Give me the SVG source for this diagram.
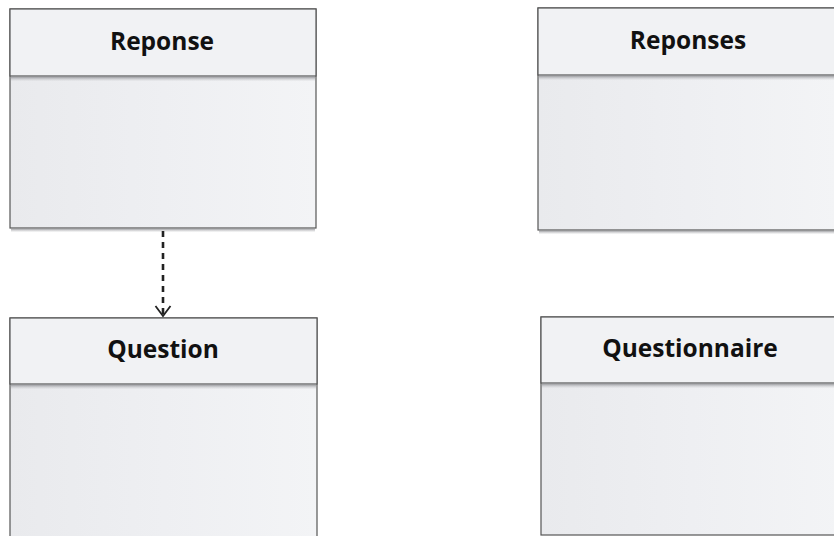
<svg xmlns="http://www.w3.org/2000/svg" width="834" height="536" viewBox="0 0 834 536">
<defs>
<linearGradient id="g" x1="0" y1="0" x2="1" y2="0">
<stop offset="0" stop-color="#e9eaed"/>
<stop offset="0.5" stop-color="#eeeff2"/>
<stop offset="1" stop-color="#f3f4f6"/>
</linearGradient>
<linearGradient id="sh" x1="0" y1="0" x2="0" y2="1">
<stop offset="0" stop-color="#8a8b8f" stop-opacity="0.9"/>
<stop offset="1" stop-color="#cfd0d3" stop-opacity="0"/>
</linearGradient>
<marker id="open" markerWidth="14" markerHeight="18" refX="11" refY="9" orient="auto" markerUnits="userSpaceOnUse">
<path d="M1,1.5 L11,9 L1,16.5" fill="none" stroke="#222" stroke-width="1.8"/>
</marker>
</defs>
<style>
.box{fill:url(#g);stroke:#555;stroke-width:1.2}
.hdr{fill:#f1f2f4;stroke:#555;stroke-width:1.2}
.shadow{fill:url(#sh)}
.lbl{font-family:"Open Sans","Liberation Sans",sans-serif;font-weight:bold;font-size:24.5px;fill:#111;text-anchor:middle}
.conn{stroke:#222;stroke-width:2.6;fill:none;stroke-dasharray:6,5}
</style>
<rect width="834" height="536" fill="#ffffff"/>
<g id="reponse">
<rect class="box" x="10" y="9" width="306" height="219"/>
<rect class="hdr" x="10" y="9" width="306" height="67"/>
<rect class="shadow" x="11" y="76.6" width="304" height="5"/>
<rect class="shadow" x="11" y="228.6" width="304" height="4"/>
<text class="lbl" x="162" y="50">Reponse</text>
</g>
<g id="reponses">
<rect class="box" x="538" y="8" width="300" height="222"/>
<rect class="hdr" x="538" y="8" width="300" height="67"/>
<rect class="shadow" x="539" y="75.6" width="298" height="5"/>
<rect class="shadow" x="539" y="230.6" width="298" height="4"/>
<text class="lbl" x="688" y="49">Reponses</text>
</g>
<g id="question">
<rect class="box" x="10" y="318" width="307" height="225"/>
<rect class="hdr" x="10" y="318" width="307" height="66"/>
<rect class="shadow" x="11" y="384.6" width="305" height="5"/>
<text class="lbl" x="163" y="358">Question</text>
</g>
<g id="questionnaire">
<rect class="box" x="541" y="317" width="300" height="218"/>
<rect class="hdr" x="541" y="317" width="300" height="66"/>
<rect class="shadow" x="542" y="383.6" width="298" height="5"/>
<text class="lbl" x="690" y="357">Questionnaire</text>
</g>
<g id="connectors">
<line class="conn" x1="163" y1="231" x2="163" y2="316" marker-end="url(#open)"/>
</g>
</svg>
